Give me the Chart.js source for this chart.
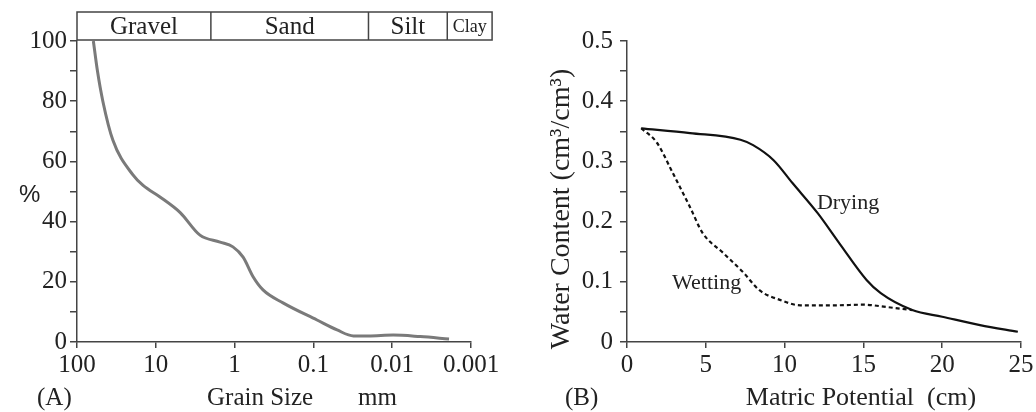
<!DOCTYPE html>
<html lang="en">
<head>
  <meta charset="UTF-8">
  <title>Grain size and water retention</title>
  <script src="https://cdn.jsdelivr.net/npm/chart.js"></script>
  <style>
    body { margin: 0; background: #fff; }
    #wrap { position: relative; width: 1036px; height: 412px; }
    #chartA { position: absolute; left: 0; top: 0; }
    #chartB { position: absolute; left: 515px; top: 0; }
  </style>
</head>
<body>
  <div id="wrap">
    <canvas id="chartA" width="515" height="412"></canvas>
    <canvas id="chartB" width="521" height="412"></canvas>
  </div>

  <script>
    // (A) grain size distribution: grain size in mm, cumulative %
    const grainSize = [62, 55, 47, 35, 19.5, 14.5, 8.85, 4.9, 2.75, 1.53, 1.05, 0.78, 0.58, 0.436, 0.243, 0.09, 0.05, 0.031, 0.02, 0.0097, 0.0044, 0.0019];
    const passing   = [100, 90, 80, 67, 55.5, 52, 48.2, 43, 35.5, 33.2, 31.6, 28.2, 21.6, 17.3, 13.0, 7.3, 4, 2, 2, 2.3, 1.8, 1];
    const xTicksA = [100, 10, 1, 0.1, 0.01, 0.001];
    const xLabelsA = ['100', '10', '1', '0.1', '0.01', '0.001'];
    const yTicksA = [0, 10, 20, 30, 40, 50, 60, 70, 80, 90, 100];
    const yLabelsA = ['0', '', '20', '', '40', '', '60', '', '80', '', '100'];
    // soil classes shown in the band above the plot (limits in mm)
    const classNames = ['Gravel', 'Sand', 'Silt', 'Clay'];
    const classLimits = [100, 2, 0.02, 0.002, 0.00054];

    // (B) water retention: matric potential (cm) vs water content
    const dryingX = [0.9, 4.0, 7.2, 8.0, 9.3, 10.5, 12.1, 13.5, 15.2, 16.1, 18.1, 20, 22.4, 24.8];
    const dryingY = [0.355, 0.347, 0.336, 0.327, 0.302, 0.264, 0.214, 0.163, 0.103, 0.081, 0.053, 0.042, 0.028, 0.017];
    const wettingX = [0.9, 1.9, 2.9, 4.0, 4.8, 6.1, 7.4, 8.4, 9.7, 11.0, 13.3, 15, 16.5, 18.1];
    const wettingY = [0.355, 0.331, 0.281, 0.224, 0.181, 0.148, 0.115, 0.086, 0.070, 0.061, 0.061, 0.062, 0.058, 0.053];
    const xTicksB = [0, 5, 10, 15, 20, 25];
    const yTicksB = [0, 0.05, 0.1, 0.15, 0.2, 0.25, 0.3, 0.35, 0.4, 0.45, 0.5];
    const yLabelsB = ['0', '', '0.1', '', '0.2', '', '0.3', '', '0.4', '', '0.5'];

    const serif = 'Liberation Serif';
    const ink = '#222';
    const axisCol = '#444';
    Chart.defaults.font.family = serif;
    Chart.defaults.color = ink;

    const toPoints = (xs, ys) => xs.map((x, i) => ({ x: x, y: ys[i] }));
    const labelFor = (vals, labels) => (v) => {
      const i = vals.findIndex(t => Math.abs(t - v) < 1e-9);
      return i < 0 ? '' : labels[i];
    };

    // axis look shared by both panels
    const axisStyle = (tickLen) => ({
      border: { display: true, color: axisCol, width: 1.5 },
      grid: { display: true, drawOnChartArea: false, drawTicks: true, tickLength: tickLen, color: axisCol, lineWidth: 1.5 },
    });

    // free text drawn after the chart (panel letters, axis titles, curve names)
    const textPlugin = {
      id: 'extraText',
      afterDraw(chart, args, opts) {
        const ctx = chart.ctx;
        ctx.save();
        (opts.items || []).forEach(t => {
          let x = t.x, y = t.y;
          if (t.data) {
            x = chart.scales.x.getPixelForValue(t.data[0]);
            y = chart.scales.y.getPixelForValue(t.data[1]);
          }
          ctx.font = (t.size || 24) + 'px ' + (t.family || serif);
          ctx.fillStyle = ink;
          ctx.textAlign = t.align || 'left';
          ctx.textBaseline = 'middle';
          if (t.rotate) {
            ctx.save();
            ctx.translate(x, y);
            ctx.rotate(t.rotate);
            ctx.fillText(t.text, 0, 0);
            ctx.restore();
          } else {
            ctx.fillText(t.text, x, y);
          }
        });
        ctx.restore();
      }
    };

    // band of soil classes over panel A
    const classBand = {
      id: 'classBand',
      afterDraw(chart) {
        const ctx = chart.ctx;
        const xs = chart.scales.x;
        const top = 12, bottom = chart.chartArea.top - 1;
        const px = classLimits.map(v => xs.getPixelForValue(v));
        ctx.save();
        ctx.strokeStyle = axisCol;
        ctx.lineWidth = 1.5;
        ctx.strokeRect(px[0], top, px[px.length - 1] - px[0], bottom - top);
        ctx.fillStyle = ink;
        ctx.textAlign = 'center';
        ctx.textBaseline = 'middle';
        classNames.forEach((name, i) => {
          if (i > 0) {
            ctx.beginPath();
            ctx.moveTo(px[i], top);
            ctx.lineTo(px[i], bottom);
            ctx.stroke();
          }
          ctx.font = (name === 'Clay' ? 18 : 25) + 'px ' + serif;
          ctx.fillText(name, (px[i] + px[i + 1]) / 2, (top + bottom) / 2 + 1);
        });
        ctx.restore();
      }
    };

    new Chart(document.getElementById('chartA'), {
      type: 'line',
      data: {
        datasets: [{
          data: toPoints(grainSize, passing),
          borderColor: '#7a7a7a',
          borderWidth: 3,
          pointRadius: 0,
          cubicInterpolationMode: 'monotone',
          fill: false
        }]
      },
      options: {
        responsive: false,
        animation: false,
        layout: { padding: { left: 0, top: 41, right: 44, bottom: 0 } },
        plugins: {
          legend: { display: false },
          tooltip: { enabled: false },
          extraText: {
            items: [
              { text: '%', x: 19, y: 195, size: 24, family: 'Liberation Sans' },
              { text: '(A)', x: 37, y: 398, size: 25 },
              { text: 'Grain Size', x: 207, y: 398, size: 25 },
              { text: 'mm', x: 358, y: 398, size: 25 }
            ]
          }
        },
        scales: {
          x: {
            type: 'logarithmic',
            reverse: true,
            min: 0.001,
            max: 100,
            ...axisStyle(6),
            afterBuildTicks: s => { s.ticks = xTicksA.map(v => ({ value: v })); },
            afterFit: s => { s.height = 70; },
            ticks: { autoSkip: false, maxRotation: 0, padding: 2, font: { size: 25 }, color: ink, callback: labelFor(xTicksA, xLabelsA) }
          },
          y: {
            type: 'linear',
            min: 0,
            max: 100,
            ...axisStyle(7),
            afterBuildTicks: s => { s.ticks = yTicksA.map(v => ({ value: v })); },
            afterFit: s => { s.width = 77; },
            ticks: { autoSkip: false, padding: 3, font: { size: 25 }, color: ink, callback: labelFor(yTicksA, yLabelsA) }
          }
        }
      },
      plugins: [textPlugin, classBand]
    });

    new Chart(document.getElementById('chartB'), {
      type: 'line',
      data: {
        datasets: [{
          label: 'Drying',
          data: toPoints(dryingX, dryingY),
          borderColor: '#111',
          borderWidth: 2.2,
          pointRadius: 0,
          cubicInterpolationMode: 'monotone',
          fill: false
        }, {
          label: 'Wetting',
          data: toPoints(wettingX, wettingY),
          borderColor: '#111',
          borderWidth: 2.2,
          borderDash: [4, 3],
          pointRadius: 0,
          cubicInterpolationMode: 'monotone',
          fill: false
        }]
      },
      options: {
        responsive: false,
        animation: false,
        layout: { padding: { left: 0, top: 41, right: 15, bottom: 0 } },
        plugins: {
          legend: { display: false },
          tooltip: { enabled: false },
          extraText: {
            items: [
              { text: 'Water Content (cm³/cm³)', x: 47, y: 209, size: 28, align: 'center', rotate: -Math.PI / 2 },
              { text: '(B)', x: 50, y: 398, size: 25 },
              { text: 'Matric Potential  (cm)', x: 346, y: 398, size: 26, align: 'center' },
              { text: 'Drying', data: [12.05, 0.231], size: 22 },
              { text: 'Wetting', data: [2.86, 0.098], size: 22 }
            ]
          }
        },
        scales: {
          x: {
            type: 'linear',
            min: 0,
            max: 25,
            ...axisStyle(6),
            afterBuildTicks: s => { s.ticks = xTicksB.map(v => ({ value: v })); },
            afterFit: s => { s.height = 70; },
            ticks: { autoSkip: false, maxRotation: 0, padding: 2, font: { size: 25 }, color: ink }
          },
          y: {
            type: 'linear',
            min: 0,
            max: 0.5,
            ...axisStyle(7),
            afterBuildTicks: s => { s.ticks = yTicksB.map(v => ({ value: v })); },
            afterFit: s => { s.width = 112; },
            ticks: { autoSkip: false, padding: 7, font: { size: 25 }, color: ink, callback: labelFor(yTicksB, yLabelsB) }
          }
        }
      },
      plugins: [textPlugin]
    });
  </script>
</body>
</html>
